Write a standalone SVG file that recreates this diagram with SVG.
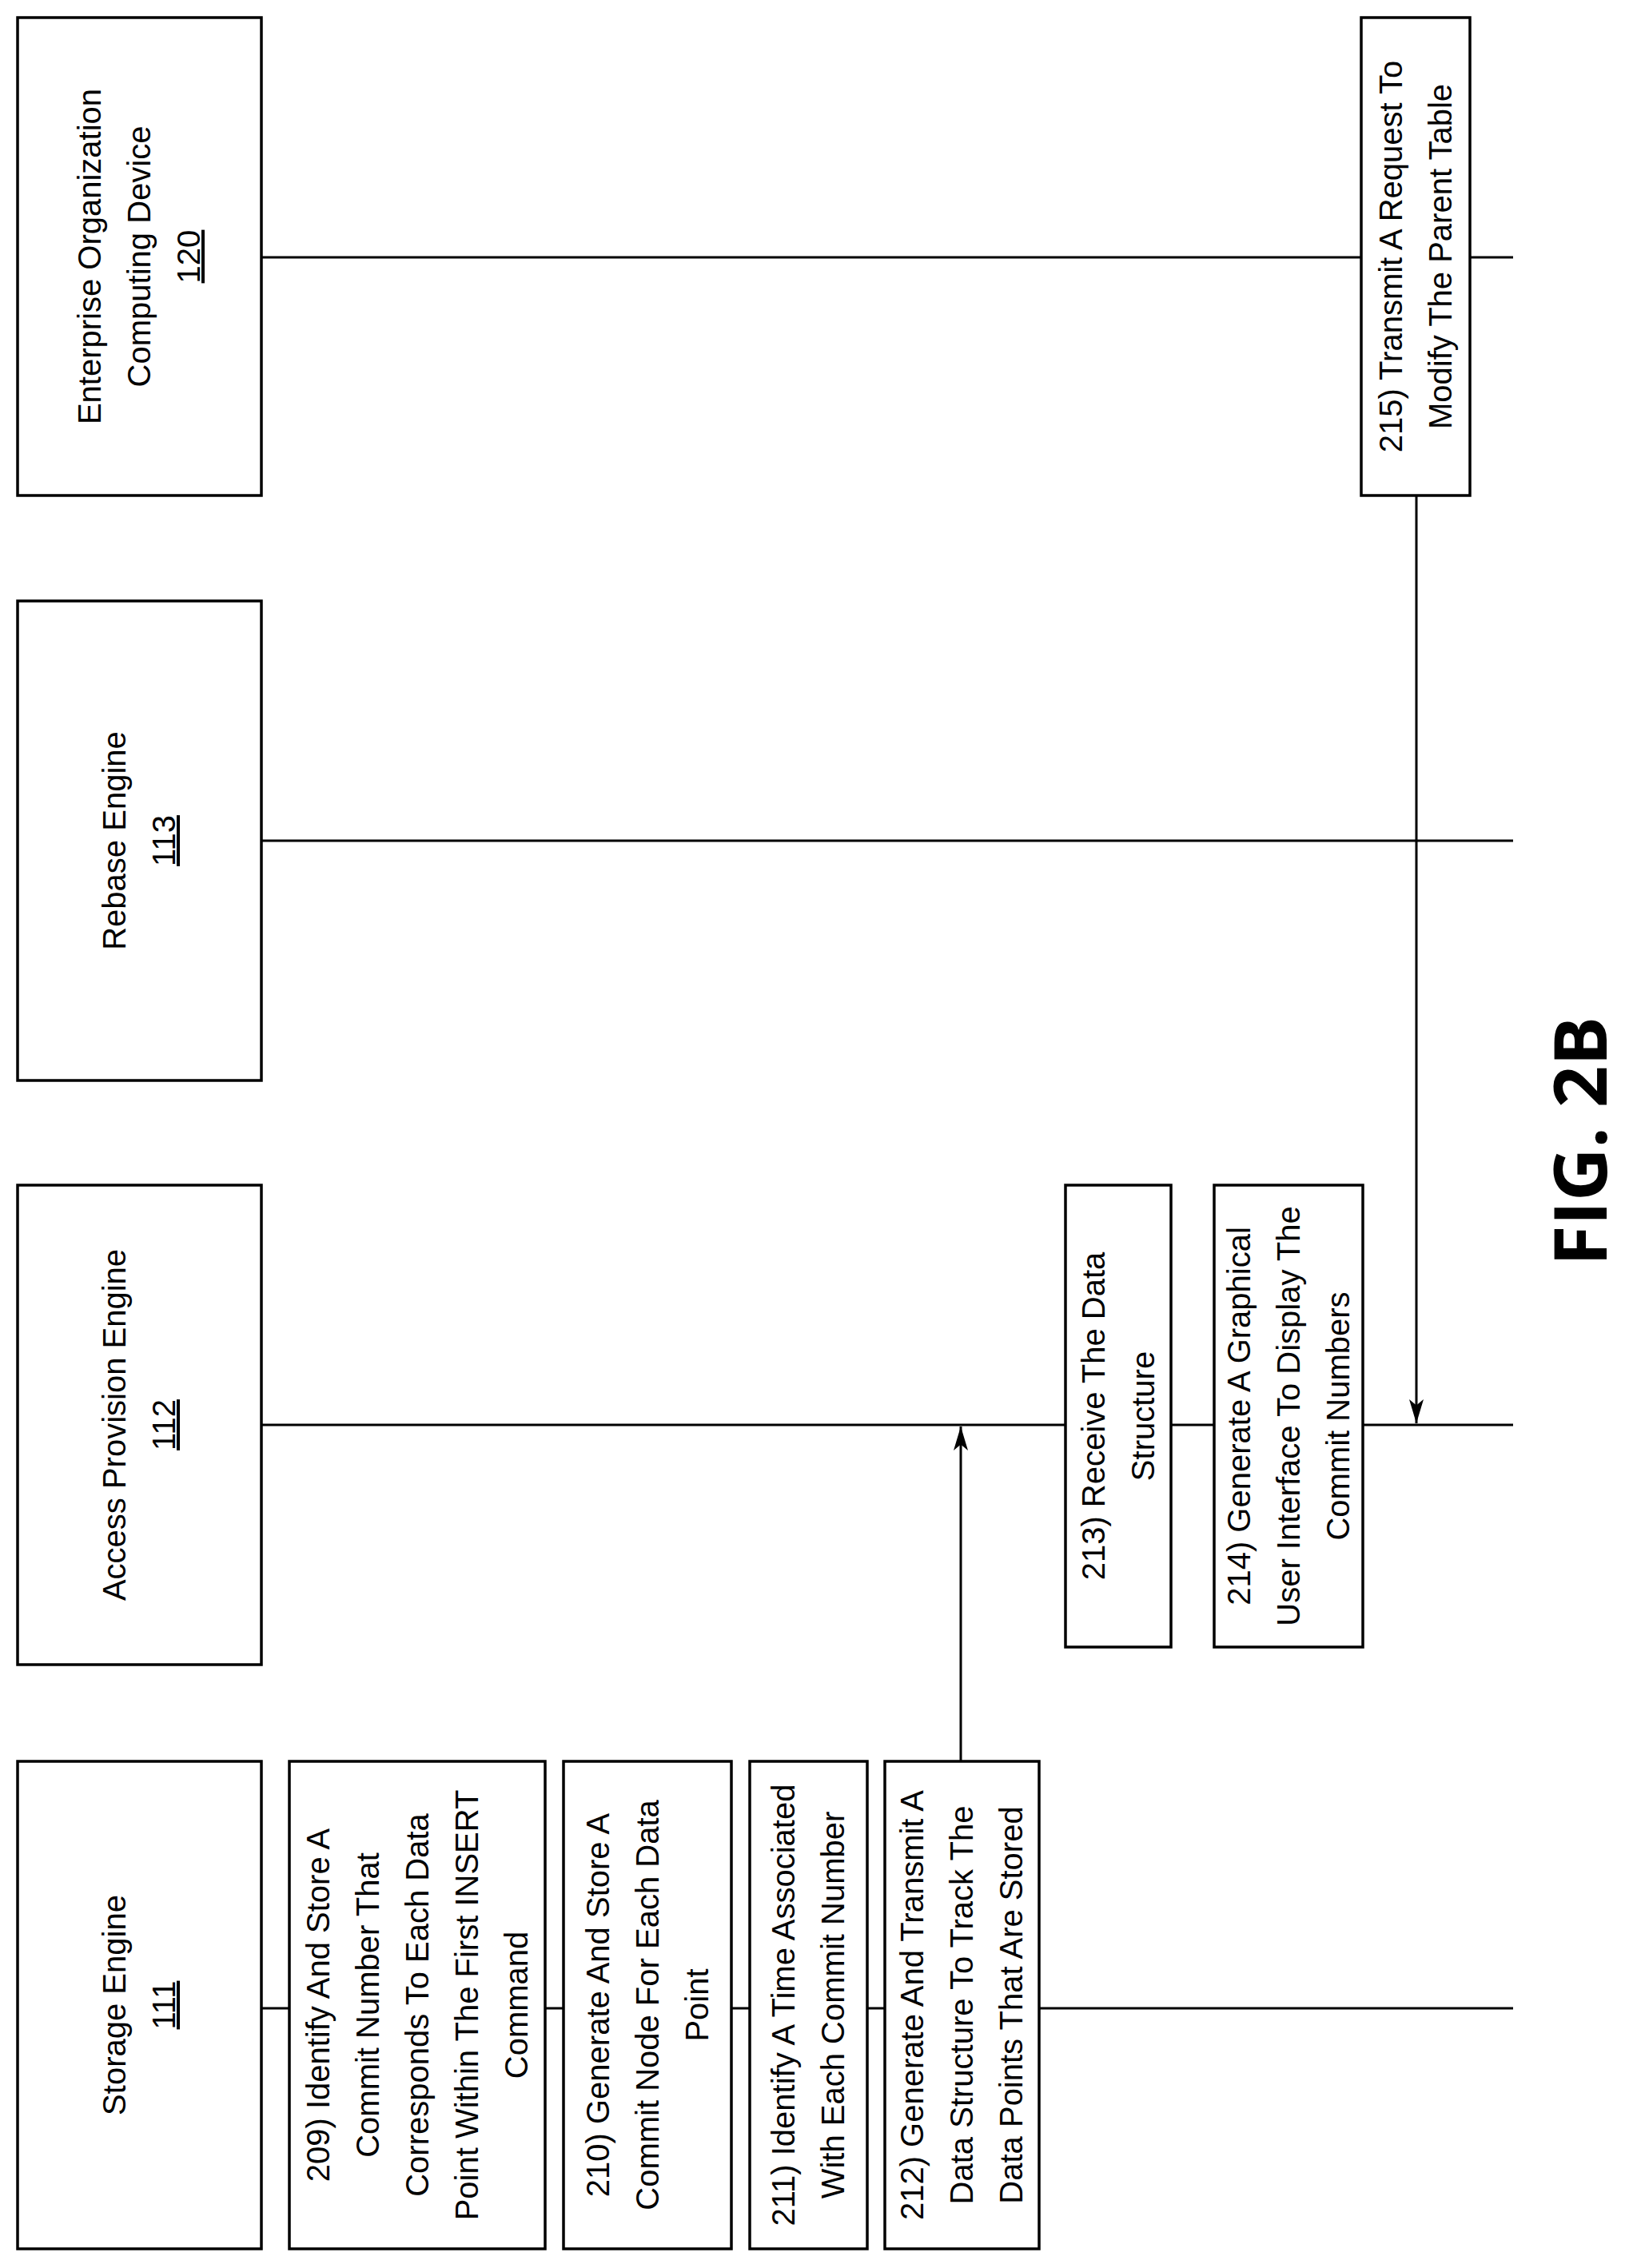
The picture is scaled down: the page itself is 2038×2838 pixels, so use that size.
<svg xmlns="http://www.w3.org/2000/svg" width="2038" height="2838" viewBox="0 0 2038 2838">
<style>
.b{fill:#fff;stroke:#000;stroke-width:3.5}
.l{stroke:#000;stroke-width:3;fill:none}
text{font-family:"Liberation Sans",Arial,sans-serif;font-size:40px;text-anchor:middle;fill:#000}
.u{text-decoration:underline}
</style>
<defs>
<marker id="a" viewBox="0 0 10 10" refX="10" refY="5" markerWidth="9" markerHeight="9" markerUnits="userSpaceOnUse" orient="auto"><path d="M0,0 L10,5 L0,10 L3,5 z" fill="#000"/></marker>
<marker id="ah" viewBox="0 0 20 12" refX="20" refY="6" markerWidth="30" markerHeight="18" markerUnits="userSpaceOnUse" orient="auto"><path d="M0,0 L20,6 L0,12 L5,6 z" fill="#000"/></marker>
</defs>
<g id="connectors">
<line class="l" x1="327" y1="322" x2="1893" y2="322"/>
<line class="l" x1="327" y1="1052" x2="1893" y2="1052"/>
<line class="l" x1="327" y1="1783" x2="1893" y2="1783"/>
<line class="l" x1="327" y1="2513" x2="1893" y2="2513"/>
<line class="l" x1="1202" y1="2204" x2="1202" y2="1785" marker-end="url(#ah)"/>
<line class="l" x1="1772" y1="620" x2="1772" y2="1781" marker-end="url(#ah)"/>
</g>
<g id="n120"><rect class="b" x="22" y="22" width="305" height="598"/>
<text transform="translate(174,321) rotate(-90)"><tspan x="0" y="-48">Enterprise Organization</tspan><tspan x="0" y="14">Computing Device</tspan><tspan x="0" y="76" class="u">120</tspan></text></g>
<g id="n113"><rect class="b" x="22" y="752" width="305" height="600"/>
<text transform="translate(174,1052) rotate(-90)"><tspan x="0" y="-17">Rebase Engine</tspan><tspan x="0" y="45" class="u">113</tspan></text></g>
<g id="n112"><rect class="b" x="22" y="1483" width="305" height="600"/>
<text transform="translate(174,1783) rotate(-90)"><tspan x="0" y="-17">Access Provision Engine</tspan><tspan x="0" y="45" class="u">112</tspan></text></g>
<g id="n111"><rect class="b" x="22" y="2204" width="305" height="610"/>
<text transform="translate(174,2509) rotate(-90)"><tspan x="0" y="-17">Storage Engine</tspan><tspan x="0" y="45" class="u">111</tspan></text></g>
<g id="s209"><rect class="b" x="362" y="2204" width="320" height="610"/>
<text transform="translate(522,2509) rotate(-90)"><tspan x="0" y="-110">209) Identify And Store A</tspan><tspan x="0" y="-48">Commit Number That</tspan><tspan x="0" y="14">Corresponds To Each Data</tspan><tspan x="0" y="76">Point Within The First INSERT</tspan><tspan x="0" y="138">Command</tspan></text></g>
<g id="s210"><rect class="b" x="705" y="2204" width="210" height="610"/>
<text transform="translate(810,2509) rotate(-90)"><tspan x="0" y="-48">210) Generate And Store A</tspan><tspan x="0" y="14">Commit Node For Each Data</tspan><tspan x="0" y="76">Point</tspan></text></g>
<g id="s211"><rect class="b" x="938" y="2204" width="147" height="610"/>
<text transform="translate(1011,2509) rotate(-90)"><tspan x="0" y="-17">211) Identify A Time Associated</tspan><tspan x="0" y="45">With Each Commit Number</tspan></text></g>
<g id="s212"><rect class="b" x="1107" y="2204" width="193" height="610"/>
<text transform="translate(1203,2509) rotate(-90)"><tspan x="0" y="-48">212) Generate And Transmit A</tspan><tspan x="0" y="14">Data Structure To Track The</tspan><tspan x="0" y="76">Data Points That Are Stored</tspan></text></g>
<g id="s213"><rect class="b" x="1333" y="1483" width="132" height="578"/>
<text transform="translate(1399,1772) rotate(-90)"><tspan x="0" y="-17">213) Receive The Data</tspan><tspan x="0" y="45">Structure</tspan></text></g>
<g id="s214"><rect class="b" x="1519" y="1483" width="186" height="578"/>
<text transform="translate(1612,1772) rotate(-90)"><tspan x="0" y="-48">214) Generate A Graphical</tspan><tspan x="0" y="14">User Interface To Display The</tspan><tspan x="0" y="76">Commit Numbers</tspan></text></g>
<g id="s215"><rect class="b" x="1703" y="22" width="136" height="598"/>
<text transform="translate(1771,321) rotate(-90)"><tspan x="0" y="-17">215) Transmit A Request To</tspan><tspan x="0" y="45">Modify The Parent Table</tspan></text></g>
<text transform="translate(2010,1428) rotate(-90)" style="font-family:'Open Sans','Liberation Sans',sans-serif;font-size:92px;font-weight:bold">FIG. 2B</text>
</svg>
